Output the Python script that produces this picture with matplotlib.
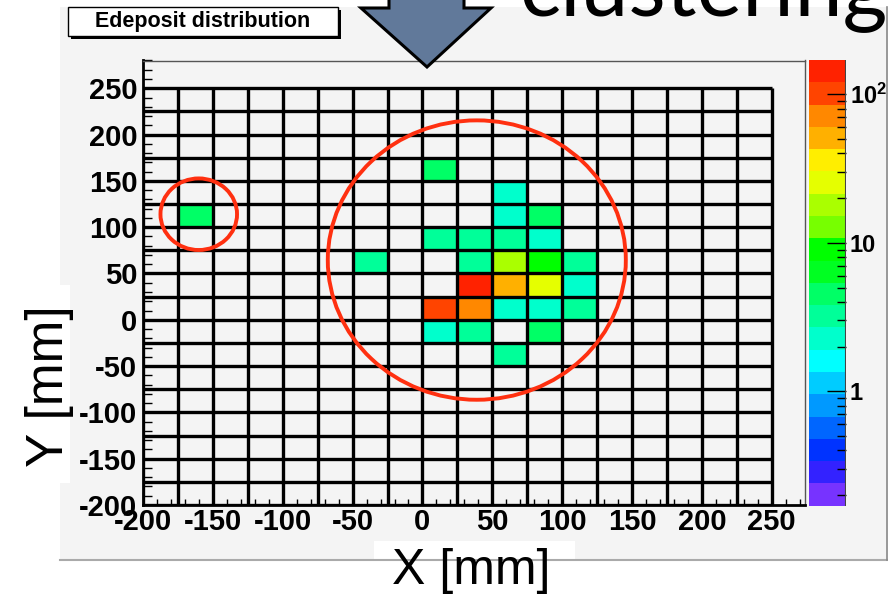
import numpy as np
import matplotlib
matplotlib.use('Agg')
import matplotlib.pyplot as plt
from matplotlib.colors import ListedColormap, LogNorm
from matplotlib.patches import Rectangle, Ellipse, Polygon
from matplotlib.ticker import MultipleLocator, LogLocator, NullFormatter

plt.rcParams['font.family'] = 'Liberation Sans'
plt.rcParams['axes.unicode_minus'] = False
plt.rcParams['mathtext.fontset'] = 'custom'
plt.rcParams['mathtext.bf'] = 'Liberation Sans:bold'
plt.rcParams['mathtext.rm'] = 'Liberation Sans:bold'

# detector cells: 25 mm bins from -200 to 250 on both axes
x_edges = np.arange(-200, 251, 25)
y_edges = np.arange(-200, 251, 25)

# lower-left corner of each hit cell [mm] and deposited energy
cell_x = [25, 0, 25, 50, 75, 50, 75,
          50, 50, 75, 100, 50, 75, 0,
          0, 25, 50, -50, 25, 100, 100, 25, 50,
          0, 75, 75, -175]
cell_y = [25, 0, 0, 25, 25, 50, 50,
          125, 100, 75, 25, 0, 0, -25,
          75, 75, 75, 50, 50, 50, 0, -25, -50,
          150, 100, -25, 100]
cell_edep = [143, 101, 72, 51, 25, 18, 9.0,
             2.3, 2.3, 2.3, 2.3, 2.3, 2.3, 2.3,
             3.2, 3.2, 3.2, 3.2, 3.2, 3.2, 3.2, 3.2, 3.2,
             4.5, 4.5, 4.5, 4.5]

x_ticks = np.arange(-200, 251, 50)
y_ticks = np.arange(-200, 251, 50)
z_ticks = [1, 10, 100]
z_labels = ['1', '10', r'$\mathbf{10^{2}}$']

# ROOT-like rainbow palette, 20 levels (bottom to top)
palette = ['#7733ff', '#3322ff', '#0033ff', '#0066ff', '#0099ff',
           '#00ccff', '#00ffff', '#00ffcc', '#00ff99', '#00ff66',
           '#00ff22', '#00ff00', '#77ff00', '#aaff00', '#e5ff00',
           '#ffee00', '#ffb000', '#ff8800', '#ff4400', '#ff2200']
cmap = ListedColormap(palette)
norm = LogNorm(vmin=0.17, vmax=170)

W, H = 888, 595
fig = plt.figure(figsize=(W / 100, H / 100), dpi=100, facecolor='white')

# grey canvas panel
fig.add_artist(Rectangle((60 / W, (H - 560) / H), (W - 60) / W, (560 - 7) / H,
                         transform=fig.transFigure, facecolor='#f4f4f4',
                         edgecolor='none', zorder=-1))

ax = fig.add_axes([143 / W, (H - 505) / H, 662.3 / W, 444.5 / H])
ax.set_facecolor('#f4f4f4')

hist = np.zeros((len(y_edges) - 1, len(x_edges) - 1))
for cx, cy, e in zip(cell_x, cell_y, cell_edep):
    i = np.searchsorted(y_edges, cy)
    j = np.searchsorted(x_edges, cx)
    hist[i, j] = e
hist = np.ma.masked_equal(hist, 0)
mesh = ax.pcolormesh(x_edges, y_edges, hist, cmap=cmap, norm=norm, zorder=1)

ax.vlines(x_edges, y_edges[0], y_edges[-1], color='black', lw=2.4, zorder=2)
ax.hlines(y_edges, x_edges[0], x_edges[-1], color='black', lw=2.4, zorder=2)

ax.add_patch(Ellipse((38.9, 64.5), 213.3, 301.7, fill=False,
                     edgecolor='#ff3010', lw=2.8, zorder=3))
ax.add_patch(Ellipse((-160.1, 114), 54.8, 77.3, fill=False,
                     edgecolor='#ff3010', lw=2.8, zorder=3))

ax.set_xlim(-200, 274)
ax.set_ylim(-200, 280)
ax.set_xticks(x_ticks)
ax.set_yticks(y_ticks)
ax.xaxis.set_minor_locator(MultipleLocator(10))
ax.yaxis.set_minor_locator(MultipleLocator(10))
ax.tick_params(axis='x', which='major', direction='in', length=9.4, width=1,
               labelsize=21, pad=2)
ax.tick_params(axis='x', which='minor', direction='in', length=4.3, width=1)
ax.tick_params(axis='y', which='major', direction='in', length=13.7, width=1,
               labelsize=21, pad=4)
ax.tick_params(axis='y', which='minor', direction='in', length=6.5, width=1)
for lab in ax.get_xticklabels() + ax.get_yticklabels():
    lab.set_fontweight('bold')
for s in ['top', 'right']:
    ax.spines[s].set_color('#555555')
    ax.spines[s].set_linewidth(1)
for s in ['left', 'bottom']:
    ax.spines[s].set_linewidth(2)

# colour scale
cax = fig.add_axes([809 / W, (H - 505.7) / H, 36.7 / W, 445.7 / H])
cb = fig.colorbar(mesh, cax=cax)
cb.outline.set_visible(False)
cb.set_ticks(z_ticks)
cb.set_ticklabels(z_labels)
cax.yaxis.set_minor_locator(LogLocator(base=10, subs=np.arange(2, 10)))
cax.yaxis.set_minor_formatter(NullFormatter())
cax.tick_params(which='major', direction='in', length=13.7, width=1,
                labelsize=17, pad=3)
cax.tick_params(which='minor', direction='in', length=6.5, width=1)
for lab in cax.get_yticklabels():
    lab.set_fontweight('bold')
cax.axvline(1, color='#444444', lw=1.5)

# overlay in pixel coordinates for the slide annotations
ov = fig.add_axes([0, 0, 1, 1], zorder=10)
ov.set_xlim(0, W)
ov.set_ylim(H, 0)
ov.axis('off')
ov.patch.set_alpha(0)

ov.plot([60, W], [560, 560], color='#aaaaaa', lw=1.5)
ov.plot([887, 887], [7, 560], color='#888888', lw=1.2)

# title box with shadow
ov.add_patch(Rectangle((71, 10), 270, 29, facecolor='black', edgecolor='none'))
ov.add_patch(Rectangle((68, 7), 270, 29, facecolor='white', edgecolor='black', lw=1))
ov.text(203, 22, 'Edeposit distribution', ha='center', va='center',
        fontsize=15.5, fontweight='bold')

# arrow
ov.add_patch(Polygon([(389, -10), (389, 8), (361, 8), (427, 67),
                      (491, 8), (464, 8), (464, -10)], closed=True,
                     facecolor='#61799a', edgecolor='black', lw=2.2,
                     joinstyle='miter'))

ov.text(519, 15, 'clustering', ha='left', va='baseline', fontsize=62,
        family='Lato')

# axis titles on white boxes
ov.add_patch(Rectangle((0, 285), 70, 198, facecolor='white', edgecolor='none'))
ov.text(63.5, 386.5, 'Y [mm]', rotation=90, rotation_mode='anchor',
        ha='center', va='baseline', fontsize=37)
ov.add_patch(Rectangle((374, 541), 201, 54, facecolor='white', edgecolor='none'))
ov.text(471.5, 584, 'X [mm]', ha='center', va='baseline', fontsize=36)

fig.savefig('out.png', dpi=100, facecolor='white')
